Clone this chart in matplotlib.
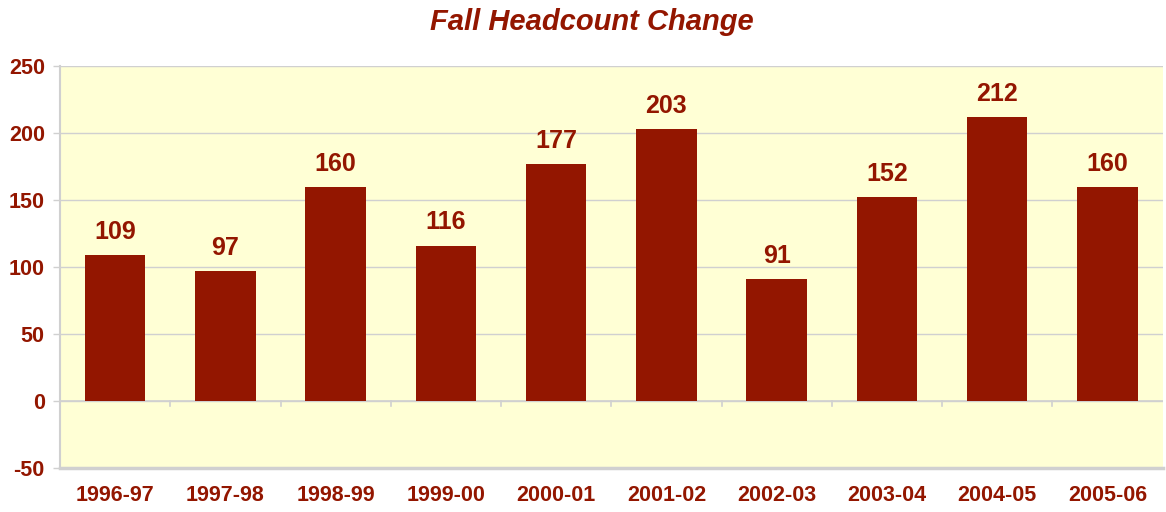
import numpy as np
import matplotlib
matplotlib.use("Agg")
import matplotlib.pyplot as plt

years = ["1996-97", "1997-98", "1998-99", "1999-00", "2000-01",
         "2001-02", "2002-03", "2003-04", "2004-05", "2005-06"]
change = [109, 97, 160, 116, 177, 203, 91, 152, 212, 160]

red = "#931600"
grid = "#d0d0d0"

plt.rcParams['font.family'] = ['Liberation Sans', 'DejaVu Sans']
plt.rcParams['axes.unicode_minus'] = False

fig = plt.figure(figsize=(11.66, 5.12), dpi=100)
ax = fig.add_axes([0.0515, 0.086, 0.9455, 0.785])
ax.set_facecolor("#ffffd5")

x = np.arange(len(years))
ax.bar(x, change, width=0.55, color=red, zorder=3)

for xi, v in zip(x, change):
    ax.annotate(str(v), (xi, v), xytext=(0, 8), textcoords="offset points",
                ha="center", va="bottom", fontsize=18, fontweight="bold",
                color=red, zorder=4)

ax.set_xlim(-0.5, len(years) - 0.5)
ax.set_ylim(-50, 250)
ax.set_yticks(range(-50, 251, 50))
ax.yaxis.grid(True, color=grid, lw=1, zorder=0)
ax.axhline(0, color=grid, lw=1.2, zorder=2)

# category boundary ticks along the zero line
for b in np.arange(0.5, len(years) - 0.5, 1):
    ax.plot([b, b], [0, -3.5], color=grid, lw=1.2, zorder=2)

ax.set_xticks(x)
ax.set_xticklabels(years)
ax.tick_params(axis="x", length=0, pad=12)
ax.tick_params(axis="y", length=5, color=grid, pad=6, width=1)
for lab in ax.get_xticklabels() + ax.get_yticklabels():
    lab.set_fontsize(15.5)
    lab.set_fontweight("bold")
    lab.set_color(red)

for s in ["top", "right"]:
    ax.spines[s].set_visible(False)
ax.spines["left"].set_color(grid)
ax.spines["left"].set_linewidth(1.5)
ax.spines["bottom"].set_color(grid)
ax.spines["bottom"].set_linewidth(2.5)

fig.text(0.508, 0.958, "Fall Headcount Change", ha="center", va="center",
         fontsize=21, fontweight="bold", fontstyle="italic", color=red)

fig.savefig("out.png", dpi=100)
